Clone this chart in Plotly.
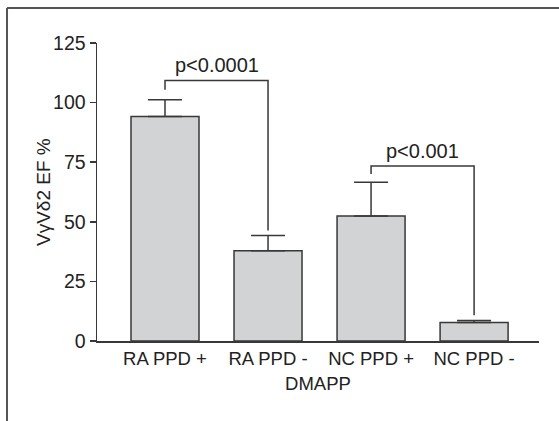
import plotly.graph_objects as go

categories = ["RA PPD +", "RA PPD -", "NC PPD +", "NC PPD -"]
means = [94.2, 37.9, 52.4, 7.8]
errors_up = [7.0, 6.4, 14.2, 0.8]

y_ticks = [0, 25, 50, 75, 100, 125]

# significance brackets: leg/top heights and labels
bracket_x = [[0, 0, 1, 1], [2, 2, 3, 3]]
bracket_y = [[105.4, 109.3, 109.3, 46.3], [70.0, 73.4, 73.4, 10.8]]
bracket_labels = ["p<0.0001", "p<0.001"]

FONT = "Liberation Sans, Arial, sans-serif"
INK = "#222222"
LINE = "#383838"

fig = go.Figure()
fig.add_trace(go.Bar(
    x=list(range(len(categories))), y=means, width=0.66,
    marker=dict(color="#d2d3d5", line=dict(color=LINE, width=1.5)),
    error_y=dict(type="data", symmetric=False, array=errors_up,
                 arrayminus=[0] * len(means), color=LINE, thickness=1.5, width=17),
    showlegend=False, hoverinfo="skip",
))

for bx, by, lab in zip(bracket_x, bracket_y, bracket_labels):
    fig.add_trace(go.Scatter(x=bx, y=by, mode="lines",
                             line=dict(color=LINE, width=1.5),
                             showlegend=False, hoverinfo="skip"))
    fig.add_annotation(x=(bx[0] + bx[-1]) / 2, y=by[1], text=lab,
                       showarrow=False, yanchor="bottom", yshift=2,
                       font=dict(family=FONT, size=20, color=INK))

# y-axis title placed as a rotated annotation
fig.add_annotation(xref="paper", yref="paper", x=-0.1222, y=0.5, text="VγVδ2 EF %",
                   textangle=-90, showarrow=False, xanchor="center", yanchor="middle",
                   font=dict(family=FONT, size=19, color=INK))

fig.update_layout(
    width=559, height=421,
    margin=dict(l=97, r=20, t=43, b=80),
    paper_bgcolor="white", plot_bgcolor="white",
    font=dict(family=FONT, size=19, color=INK),
    xaxis=dict(range=[-0.66, 3.63], tickvals=list(range(len(categories))),
               ticktext=categories, showgrid=False, zeroline=False,
               showline=True, linecolor=LINE, linewidth=1.5, ticks="",
               tickfont=dict(size=18.5),
               title=dict(text="DMAPP", standoff=9, font=dict(size=18.5))),
    yaxis=dict(range=[0, 125], tickvals=y_ticks, showgrid=False, zeroline=False,
               showline=True, linecolor=LINE, linewidth=1.5, ticks="outside",
               ticklen=6, tickwidth=1.5, tickcolor=LINE, tickfont=dict(size=19.5)),
    shapes=[
        dict(type="line", xref="paper", yref="paper", x0=-0.2036, x1=1.1, y0=1.1174, y1=1.1174,
             line=dict(color="#555555", width=2)),
        dict(type="line", xref="paper", yref="paper", x0=-0.2036, x1=-0.2036, y0=1.1174, y1=-0.3,
             line=dict(color="#555555", width=2)),
    ],
)

fig.write_html("out.html", config={"displayModeBar": False, "staticPlot": True},
               post_script="document.body.style.margin='0';document.body.style.overflow='hidden';")
